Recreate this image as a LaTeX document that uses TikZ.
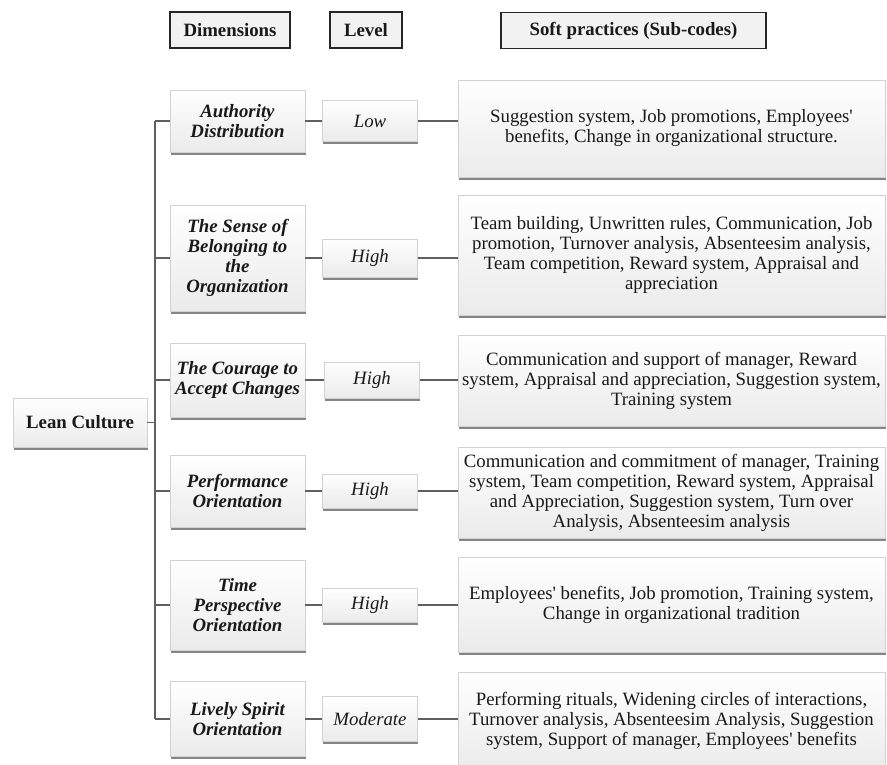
\documentclass[tikz,border=0pt]{standalone}
\usepackage{fontspec}
\setmainfont{Liberation Serif}
\usetikzlibrary{shadows,calc}
\newcommand{\apos}{\textquotesingle}
\begin{document}
\begin{tikzpicture}[x=1pt,y=-1pt,
  basefont/.style={font=\fontsize{18.8}{20}\selectfont},
  card/.style={draw=gray!35, line width=0.6pt, top color=white, bottom color=gray!16,
    drop shadow={shadow xshift=0.6pt, shadow yshift=-2.8pt, fill=black!80, opacity=0.6},
    text=black!90, align=center, inner sep=0pt},
  head/.style={draw=black!85, line width=1.4pt, fill=gray!10, text=black!90,
    font=\fontsize{18.8}{20}\selectfont\bfseries, inner sep=0pt, minimum height=36pt},
  dimbox/.style={card, font=\fontsize{18.8}{20}\selectfont\bfseries\itshape, minimum width=135pt},
  lvlbox/.style={card, font=\fontsize{18.8}{20}\selectfont\itshape, minimum width=95pt},
  softbox/.style={card, font=\fontsize{18.8}{20}\selectfont, minimum width=427pt},
  leanbox/.style={card, font=\fontsize{18.8}{20}\selectfont\bfseries, minimum width=134pt, minimum height=49pt},
  link/.style={draw=gray!75!black, line width=1.2pt}
]
\useasboundingbox (0,0) rectangle (887,764);

% column headings
\node[head, minimum width=120pt] (hdim) at (230,30) {Dimensions};
\node[head, minimum width=72pt] (hlvl) at (366,30) {Level};
\node[head, minimum width=265pt] (hsoft) at (633.5,30.5) {Soft practices (Sub-codes)};

% root
\node[leanbox] (lean) at (80,422.5) {Lean Culture};
\coordinate (trunk) at (155,0);

% row 1
\node[dimbox, minimum height=62pt] (dim1) at (237.5,121) {Authority\\Distribution};
\node[lvlbox, minimum height=41pt] (lvl1) at (370,121) {Low};
\node[softbox, minimum height=97pt] (soft1) at (671.5,128.5)
  {Suggestion system, Job promotions, Employees\apos\\benefits, Change in organizational structure.};

% row 2
\node[dimbox, minimum height=106pt] (dim2) at (237.5,258) {The Sense of\\Belonging to\\the\\Organization};
\node[lvlbox, minimum height=38pt] (lvl2) at (370,258) {High};
\node[softbox, minimum height=120pt] (soft2) at (671.5,255)
  {Team building, Unwritten rules, Communication, Job\\promotion, Turnover analysis, Absenteesim analysis,\\Team competition, Reward system, Appraisal and\\appreciation};

% row 3
\node[dimbox, minimum height=74pt] (dim3) at (237.5,380) {The Courage to\\Accept Changes};
\node[lvlbox, minimum height=36pt] (lvl3) at (372,380) {High};
\node[softbox, minimum height=91pt] (soft3) at (671.5,380.5)
  {Communication and support of manager, Reward\\system, Appraisal and appreciation, Suggestion system,\\Training system};

% row 4
\node[dimbox, minimum height=72pt] (dim4) at (237.5,491) {Performance\\Orientation};
\node[lvlbox, minimum height=34pt] (lvl4) at (370,491) {High};
\node[softbox, minimum height=91pt] (soft4) at (671.5,492.5)
  {Communication and commitment of manager, Training\\system, Team competition, Reward system, Appraisal\\and Appreciation, Suggestion system, Turn over\\Analysis, Absenteesim analysis};

% row 5
\node[dimbox, minimum height=90pt] (dim5) at (237.5,605) {Time\\Perspective\\Orientation};
\node[lvlbox, minimum height=34pt] (lvl5) at (370,605) {High};
\node[softbox, minimum height=95pt] (soft5) at (671.5,604.5)
  {Employees\apos{} benefits, Job promotion, Training system,\\Change in organizational tradition};

% row 6
\node[dimbox, minimum height=75pt] (dim6) at (237.5,719) {Lively Spirit\\Orientation};
\node[lvlbox, minimum height=45pt] (lvl6) at (370,719) {Moderate};
\node[softbox, minimum height=98pt] (soft6) at (671.5,721)
  {Performing rituals, Widening circles of interactions,\\Turnover analysis, Absenteesim Analysis, Suggestion\\system, Support of manager, Employees\apos{} benefits};

% tree connectors
\draw[link] (lean.east) -- (lean.east -| trunk);
\draw[link] (dim1.west -| trunk) -- (dim6.west -| trunk);
\foreach \i in {1,...,6}{
  \draw[link] (dim\i.west -| trunk) -- (dim\i.west);
  \draw[link] (dim\i.east) -- (lvl\i.west);
  \draw[link] (lvl\i.east) -- (lvl\i.east -| soft\i.west);
}
\end{tikzpicture}
\end{document}
